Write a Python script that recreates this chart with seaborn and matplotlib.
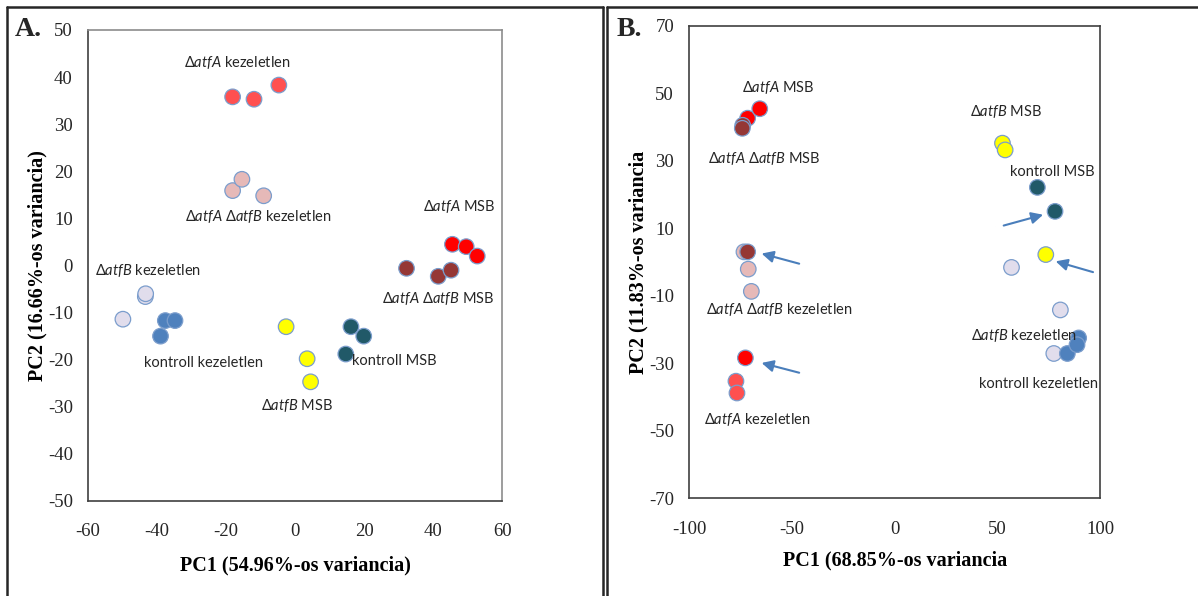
import matplotlib
matplotlib.use("Agg")
import matplotlib.pyplot as plt
from matplotlib.lines import Line2D
import pandas as pd
import seaborn as sns

sns.set_style("white")
plt.rcParams["axes.unicode_minus"] = False
plt.rcParams["mathtext.fontset"] = "custom"
plt.rcParams["mathtext.it"] = "Lato:italic"
plt.rcParams["mathtext.rm"] = "Lato"
plt.rcParams["font.family"] = ["Lato", "DejaVu Sans"]

# ---- group names and colours ----
groups = ["ΔatfA kezeletlen", "ΔatfA ΔatfB kezeletlen", "ΔatfA MSB",
          "ΔatfA ΔatfB MSB", "ΔatfB kezeletlen", "kontroll kezeletlen",
          "ΔatfB MSB", "kontroll MSB"]
colors = ["#FF5050", "#E6B9B8", "#FF0000", "#953735",
          "#E1DDEC", "#4F81BD", "#FFFF00", "#215968"]

# ---- panel A scores ----
a_group = [0, 0, 0,
           1, 1, 1,
           2, 2, 2,
           3, 3, 3,
           4, 4, 4,
           5, 5, 5,
           6, 6, 6,
           7, 7, 7]
a_pc1 = [-18.1, -11.9, -4.7,
         -18.1, -15.4, -9.1,
         45.6, 49.6, 52.8,
         32.3, 41.5, 45.2,
         -43.4, -43.3, -49.9,
         -37.6, -34.8, -39.0,
         -2.6, 3.5, 4.5,
         16.2, 19.9, 14.7]
a_pc2 = [35.8, 35.3, 38.3,
         15.9, 18.3, 14.8,
         4.5, 4.0, 2.0,
         -0.6, -2.3, -1.0,
         -6.6, -6.0, -11.4,
         -11.7, -11.7, -15.0,
         -13.0, -19.8, -24.7,
         -13.0, -15.0, -18.8]

# ---- panel B scores ----
b_group = [0, 0,
           1, 1, 1,
           2, 2, 2,
           3, 3, 3,
           4, 4, 4,
           5, 5, 5,
           6, 6, 6,
           7, 7]
b_pc1 = [-77.3, -76.8,
         -73.4, -71.3, -69.8,
         -71.6, -65.7, -72.7,
         -74.0, -74.2, -71.6,
         56.9, 80.7, 77.5,
         84.1, 89.6, 88.8,
         52.5, 53.8, 73.6,
         69.5, 78.1]
b_pc2 = [-35.3, -38.8,
         3.0, -2.1, -8.7,
         42.6, 45.4, -28.4,
         40.5, 39.6, 3.0,
         -1.6, -14.2, -27.1,
         -27.1, -22.5, -24.5,
         35.2, 33.2, 2.2,
         22.1, 15.0]

# ---- group annotations (text, x, y) ----
a_labels = [(r"$\mathit{\Delta atfA}$ kezeletlen", -16.7, 43.2),
            (r"$\mathit{\Delta atfA}\ \mathit{\Delta atfB}$ kezeletlen", -10.7, 10.3),
            (r"$\mathit{\Delta atfA}$ MSB", 47.5, 12.6),
            (r"$\mathit{\Delta atfA}\ \mathit{\Delta atfB}$ MSB", 41.4, -7.0),
            (r"$\mathit{\Delta atfB}$ kezeletlen", -42.7, -1.1),
            ("kontroll kezeletlen", -26.6, -20.8),
            ("kontroll MSB", 28.8, -20.3),
            (r"$\mathit{\Delta atfB}$ MSB", 0.5, -29.8)]
b_labels = [(r"$\mathit{\Delta atfA}$ MSB", -56.7, 51.8),
            (r"$\mathit{\Delta atfA}\ \mathit{\Delta atfB}$ MSB", -63.6, 30.8),
            (r"$\mathit{\Delta atfB}$ MSB", 54.1, 44.6),
            ("kontroll MSB", 76.6, 26.8),
            (r"$\mathit{\Delta atfA}\ \mathit{\Delta atfB}$ kezeletlen", -56.4, -14.1),
            (r"$\mathit{\Delta atfB}$ kezeletlen", 62.9, -21.8),
            ("kontroll kezeletlen", 70.2, -36.0),
            (r"$\mathit{\Delta atfA}$ kezeletlen", -66.7, -46.7)]

# ---- arrows marking outlying replicates (tail x, tail y, head x, head y) ----
b_arrows = [(-46.5, -0.5, -64.8, 2.5),
            (53.1, 10.8, 72.3, 14.0),
            (96.6, -3.0, 78.4, 0.2),
            (-46.5, -32.8, -64.8, -29.9)]

palette = dict(zip(groups, colors))
df_a = pd.DataFrame({"group": [groups[i] for i in a_group], "pc1": a_pc1, "pc2": a_pc2})
df_b = pd.DataFrame({"group": [groups[i] for i in b_group], "pc1": b_pc1, "pc2": b_pc2})

fig = plt.figure(figsize=(11.98, 5.96), dpi=100)
ax_a = fig.add_axes([0.0735, 0.1594, 0.3456, 0.7903])
ax_b = fig.add_axes([0.5754, 0.1639, 0.3428, 0.7930])

serif = "Liberation Serif"
edge = "#7B9DCC"

for ax, df, labels in ((ax_a, df_a, a_labels), (ax_b, df_b, b_labels)):
    sns.scatterplot(data=df, x="pc1", y="pc2", hue="group", palette=palette,
                    s=125, edgecolor=edge, linewidth=0.9, legend=False,
                    ax=ax, zorder=3)
    for text, x, y in labels:
        ax.text(x, y, text, ha="center", va="center", fontsize=10.5,
                color="#262626", zorder=4)
    ax.tick_params(length=0, labelsize=13.5, pad=11)
    ax.tick_params(axis="x", pad=16)

for x0, y0, x1, y1 in b_arrows:
    ax_b.annotate("", xy=(x1, y1), xytext=(x0, y0),
                  arrowprops=dict(arrowstyle="-|>,head_length=0.7,head_width=0.35",
                                  color="#4A7EBB", lw=1.5, shrinkA=0, shrinkB=0),
                  zorder=5)

# panel A axes
ax_a.set_xlim(-60, 60)
ax_a.set_ylim(-50, 50)
ax_a.set_xticks(range(-60, 61, 20))
ax_a.set_yticks(range(-50, 51, 10))
for s in ("top", "right"):
    ax_a.spines[s].set_color("#8C8C8C")
for s in ("left", "bottom"):
    ax_a.spines[s].set_color("#404040")
for s in ax_a.spines.values():
    s.set_linewidth(1.2)

# panel B axes
ax_b.set_xlim(-100, 100)
ax_b.set_ylim(-70, 70)
ax_b.set_xticks(range(-100, 101, 50))
ax_b.set_yticks(range(-70, 71, 20))
for s in ax_b.spines.values():
    s.set_color("#404040")
    s.set_linewidth(1.2)

for ax in (ax_a, ax_b):
    for lab in ax.get_xticklabels() + ax.get_yticklabels():
        lab.set_fontfamily(serif)

lab_kw = dict(fontfamily=serif, fontweight="bold", fontsize=14.5, color="black")
ax_a.set_xlabel("PC1 (54.96%-os variancia)", **lab_kw)
ax_a.set_ylabel("PC2 (16.66%-os variancia)", **lab_kw)
ax_b.set_xlabel("PC1 (68.85%-os variancia", **lab_kw)
ax_b.set_ylabel("PC2 (11.83%-os variancia", **lab_kw)
ax_a.xaxis.set_label_coords(0.5, -0.136)
ax_a.yaxis.set_label_coords(-0.123, 0.5)
ax_b.xaxis.set_label_coords(0.5, -0.131)
ax_b.yaxis.set_label_coords(-0.125, 0.5)
for ax in (ax_a, ax_b):
    ax.xaxis.label.set_va("center")
    ax.yaxis.label.set_va("center")

# panel letters
fig.text(15 / 1198, 1 - 30 / 596, "A.", fontfamily=serif, fontweight="bold",
         fontsize=20, ha="left", va="center")
fig.text(617 / 1198, 1 - 30 / 596, "B.", fontfamily=serif, fontweight="bold",
         fontsize=20, ha="left", va="center")

# panel frames
W, H = 1198, 596
frame_kw = dict(color="#262626", lw=1.8, transform=fig.transFigure)
top = 1 - 7 / H
fig.add_artist(Line2D([7 / W, 7 / W], [0, top], **frame_kw))
fig.add_artist(Line2D([603 / W, 603 / W], [0, top], **frame_kw))
fig.add_artist(Line2D([7 / W, 603 / W], [top, top], **frame_kw))
fig.add_artist(Line2D([607 / W, 607 / W], [0, top], **frame_kw))
fig.add_artist(Line2D([607 / W, 1], [top, top], **frame_kw))

fig.savefig("out.png", dpi=100)
